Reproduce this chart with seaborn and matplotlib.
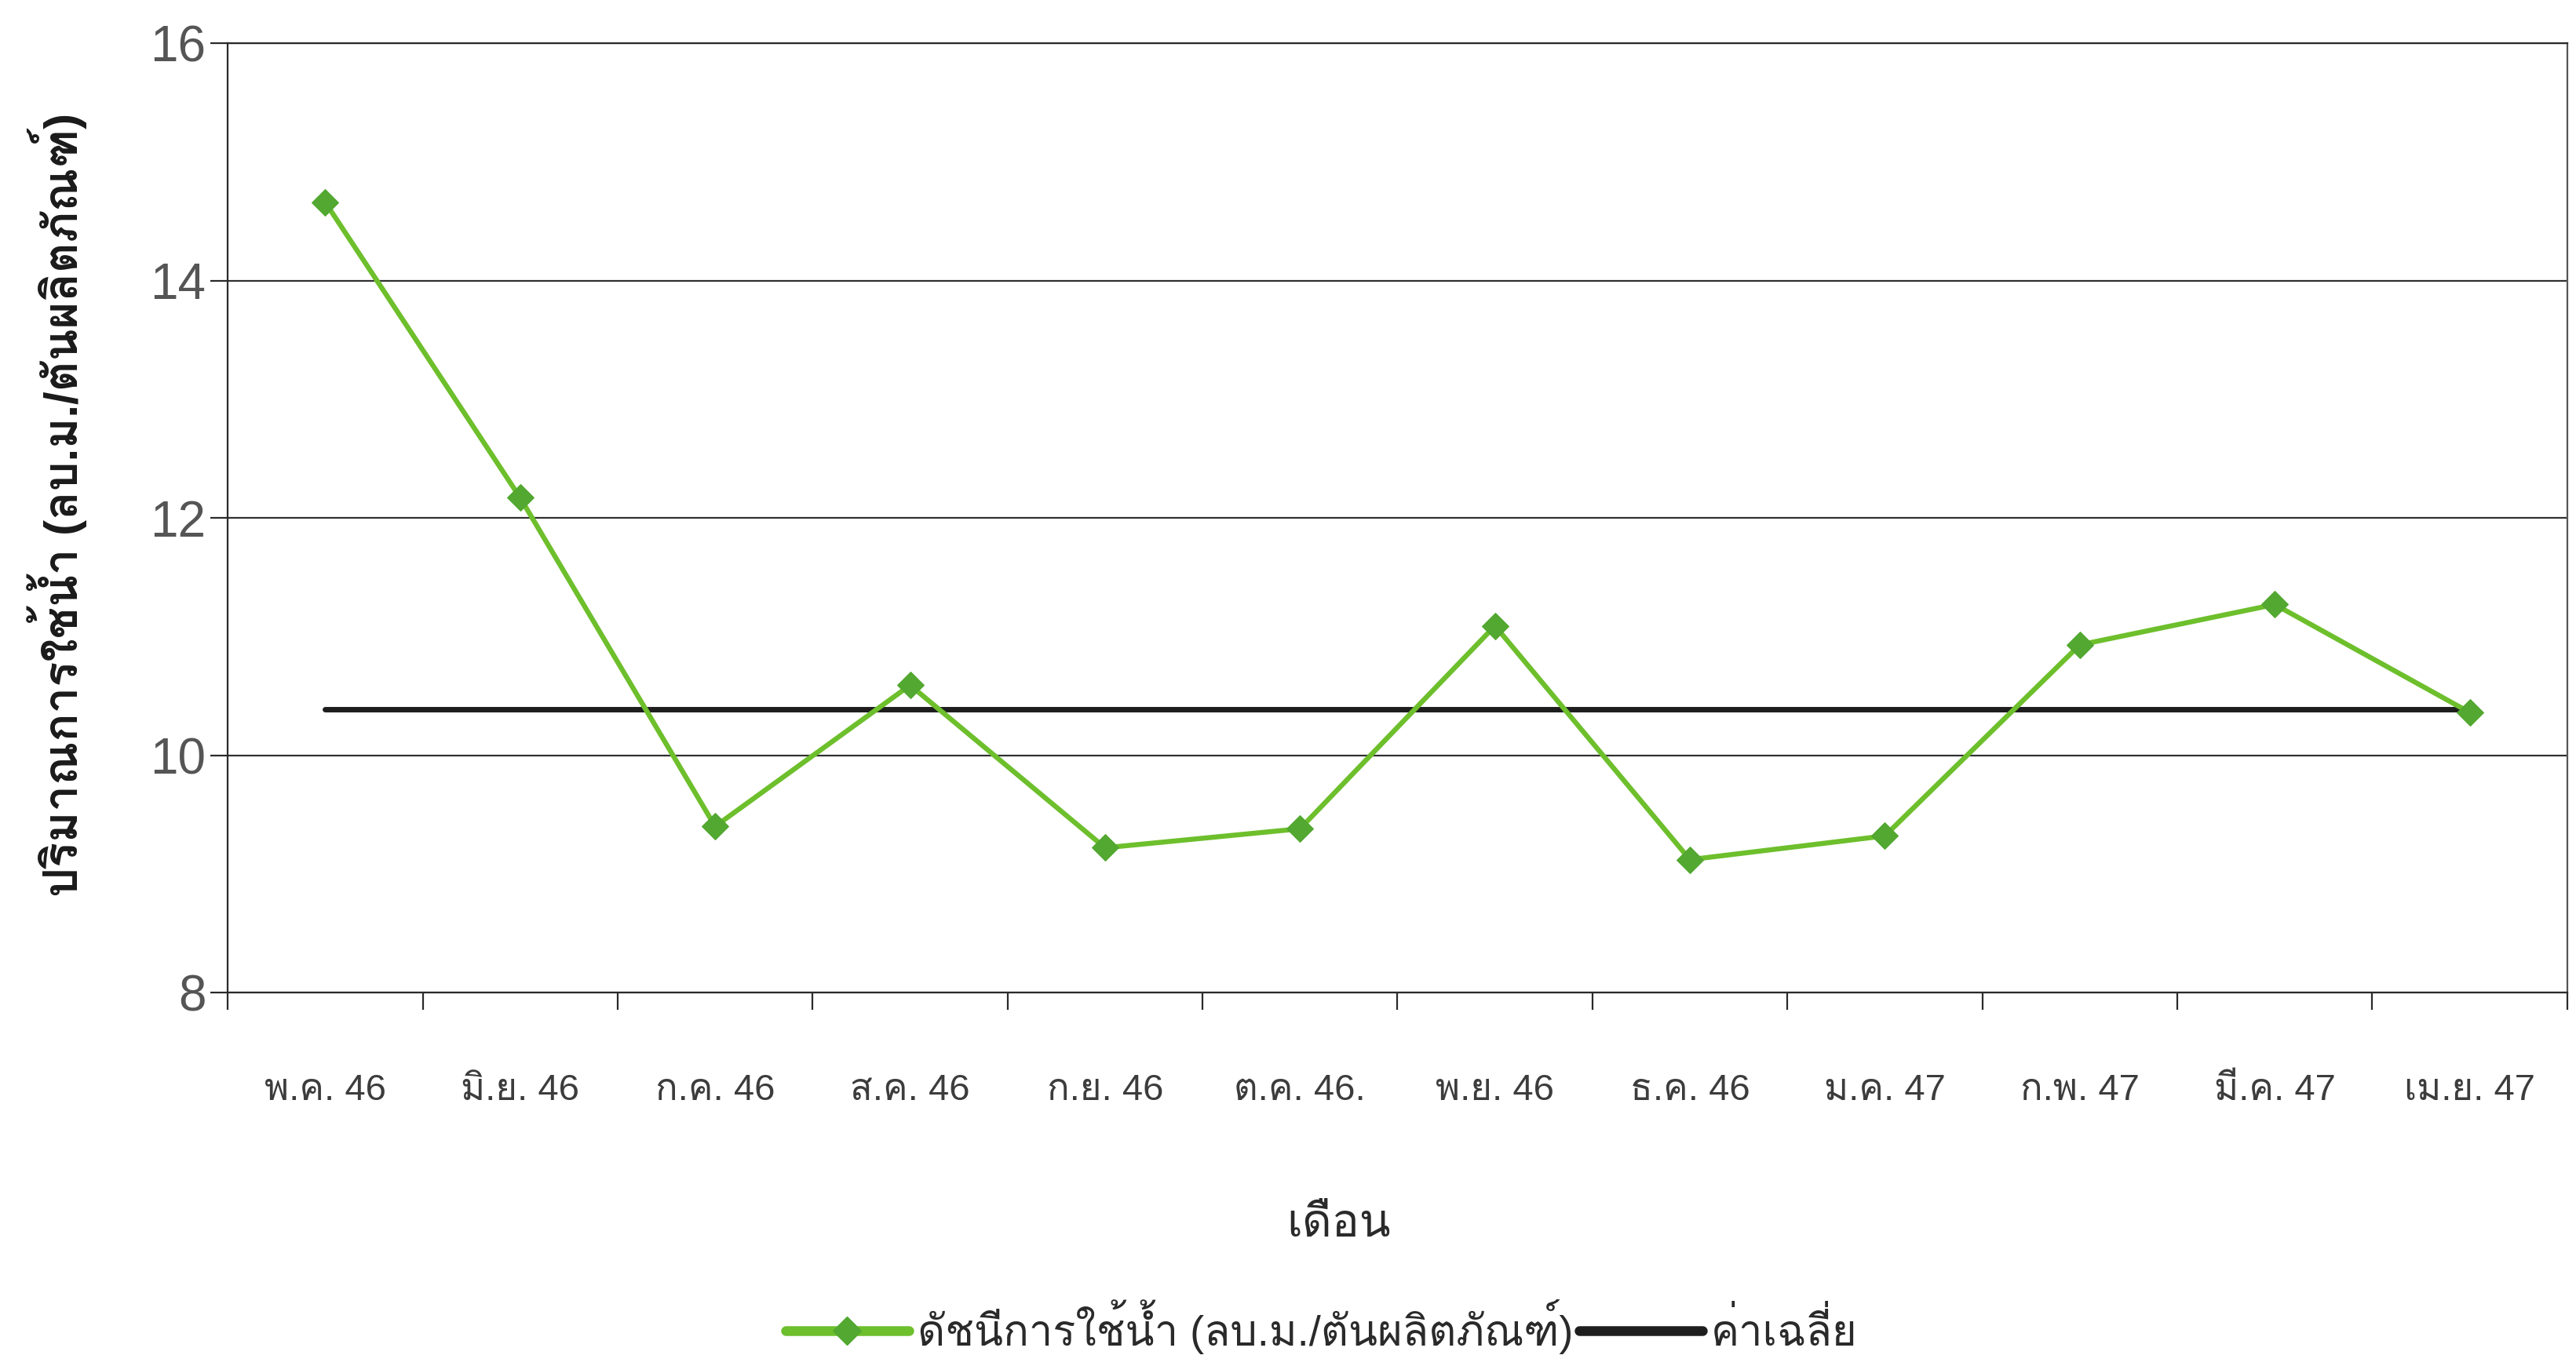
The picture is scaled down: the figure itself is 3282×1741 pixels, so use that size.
import matplotlib
matplotlib.use("Agg")
import matplotlib.pyplot as plt
from matplotlib import font_manager, ft2font
from matplotlib.lines import Line2D
import seaborn as sns
import pandas as pd

# Monthly water-use index (m3 per tonne of product), May 2003 - Apr 2004
months = ["พ.ค. 46", "มิ.ย. 46", "ก.ค. 46", "ส.ค. 46", "ก.ย. 46", "ต.ค. 46.",
          "พ.ย. 46", "ธ.ค. 46", "ม.ค. 47", "ก.พ. 47", "มี.ค. 47", "เม.ย. 47"]
water_index = [14.66, 12.17, 9.40, 10.59, 9.22, 9.38,
               11.09, 9.12, 9.32, 10.93, 11.27, 10.36]
average_value = 10.39
y_ticks = [8, 10, 12, 14, 16]

series_label = "ดัชนีการใช้น้ำ (ลบ.ม./ตันผลิตภัณฑ์)"
average_label = "ค่าเฉลี่ย"
x_title = "เดือน"
y_title = "ปริมาณการใช้น้ำ (ลบ.ม./ตันผลิตภัณฑ์)"


def thai_family():
    """Return the name of an installed family that has Thai glyphs, if any."""
    seen = set()
    for f in font_manager.fontManager.ttflist:
        if f.fname in seen:
            continue
        seen.add(f.fname)
        try:
            cmap = ft2font.FT2Font(f.fname).get_charmap()
        except Exception:
            continue
        if 0x0E01 in cmap and 0x0E19 in cmap and 0x0E49 in cmap:
            return f.name
    return None


sns.set_theme(style="white")
families = ["Liberation Sans"]
tf = thai_family()
if tf:
    families.append(tf)
families.append("DejaVu Sans")
plt.rcParams["font.family"] = families

df = pd.DataFrame({"month": months, "index": water_index,
                   "average": [average_value] * len(months)})

fig = plt.figure(figsize=(32.82, 17.41), dpi=100)
ax = fig.add_axes([0.0884, 0.2734, 0.9082, 0.6950])

green_line = "#6dbf2c"
green_mark = "#52a830"

sns.lineplot(data=df, x="month", y="average", ax=ax, sort=False,
             color="#1e1e1e", linewidth=5.0, zorder=3)
sns.lineplot(data=df, x="month", y="index", ax=ax, sort=False,
             color=green_line, linewidth=4.6, marker="D", markersize=17,
             markerfacecolor=green_mark, markeredgecolor=green_mark, zorder=4)

ax.set_xlim(-0.5, len(months) - 0.5)
ax.set_ylim(8, 16)
ax.set_yticks(y_ticks)
ax.set_yticklabels([str(v) for v in y_ticks])
ax.set_xticks(range(len(months)))
ax.set_xticklabels(months)

# horizontal gridlines at the value ticks
for v in y_ticks:
    ax.axhline(v, color="#303030", linewidth=1.6, zorder=1)

for side in ["left", "bottom", "right", "top"]:
    ax.spines[side].set_visible(True)
    ax.spines[side].set_color("#2a2a2a")
    ax.spines[side].set_linewidth(1.6)
ax.spines["right"].set_color("#555555")

# category boundary ticks on the x axis
ax.set_xticks([i + 0.5 for i in range(-1, len(months))], minor=True)
ax.tick_params(axis="x", which="major", length=0, pad=74,
               labelsize=34, labelcolor="#3c3c3c")
ax.tick_params(axis="x", which="minor", bottom=True, length=16,
               width=1.6, color="#2a2a2a", direction="out")
ax.tick_params(axis="y", left=True, length=16, width=1.6, color="#2a2a2a",
               direction="out", pad=4, labelsize=46, labelcolor="#555555")

ax.set_xlabel(x_title, fontsize=42, color="#2a2a2a")
ax.xaxis.set_label_coords(0.475, -0.222)
ax.set_ylabel(y_title, fontsize=43, fontweight="bold", color="#1a1a1a")
ax.yaxis.set_label_coords(-0.060, 0.514)

handles = [
    Line2D([0], [0], color=green_line, linewidth=9, marker="D",
           markersize=18, markerfacecolor=green_mark,
           markeredgecolor=green_mark),
    Line2D([0], [0], color="#1e1e1e", linewidth=9),
]
fig.legend(handles, [series_label, average_label], loc="center",
           bbox_to_anchor=(0.513, 0.029), ncol=2, frameon=False,
           fontsize=39, handlelength=2.9, handletextpad=0.2,
           columnspacing=0.15, numpoints=1, labelcolor="#2a2a2a")

fig.savefig("out.png", dpi=100, facecolor="white")
